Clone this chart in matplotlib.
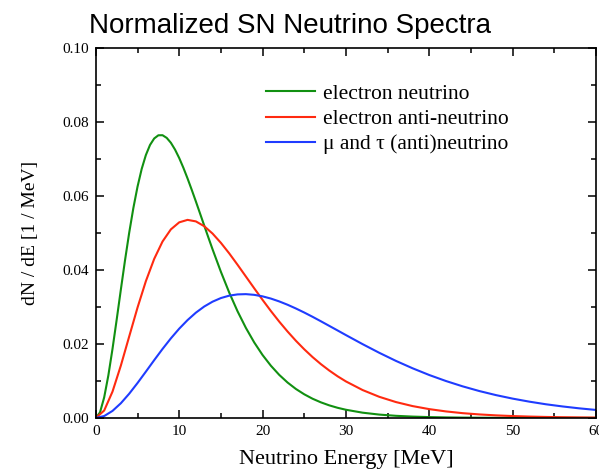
import numpy as np
import matplotlib
matplotlib.use("Agg")
import matplotlib.pyplot as plt
from matplotlib.ticker import MultipleLocator

# energies (MeV): half-MeV step below 14 for the narrow electron-neutrino peak
energy_e = [i * 0.5 for i in range(28)] + list(range(14, 31)) + list(range(32, 61, 2))
energy = list(range(0, 31)) + list(range(32, 61, 2))

nu_e = [0.0, 0.001502, 0.00555, 0.01148, 0.01868, 0.02657, 0.03469, 0.04262,
        0.05005, 0.05674, 0.06252, 0.06732, 0.07107, 0.07381, 0.07556,
        0.07642, 0.07644, 0.07572, 0.07440, 0.07255, 0.07027, 0.06764,
        0.06476, 0.06170, 0.05853, 0.05528, 0.05202, 0.04878,
        0.04560, 0.03952, 0.03390, 0.02883, 0.02434, 0.02041, 0.01701,
        0.01411, 0.01164, 0.00957, 0.00783, 0.00639, 0.00519, 0.00421,
        0.00340, 0.00274, 0.00221,
        0.00142, 0.000903, 0.000572, 0.000360, 0.000225, 0.000140, 0.0000869,
        0.0000536, 0.000033, 0.0000202, 0.0000123, 0.0000075, 0.0000046,
        0.0000028, 0.0000017]

nu_e_bar = [0.0, 0.00200, 0.00712, 0.01415, 0.02201, 0.02983, 0.03697,
            0.04300, 0.04770, 0.05098, 0.05288, 0.05355, 0.05314, 0.05184,
            0.04985, 0.04734, 0.04449, 0.04141, 0.03823, 0.03505, 0.03192,
            0.02890, 0.02604, 0.02336, 0.02086, 0.01856, 0.01645, 0.01454,
            0.01282, 0.01126, 0.00987,
            0.00754, 0.00571, 0.00429, 0.00320, 0.00238, 0.00176, 0.00129,
            0.000948, 0.000692, 0.000504, 0.000365, 0.000264, 0.000190,
            0.000137, 0.0000981]

nu_x = [0.0, 0.000508, 0.00190, 0.00397, 0.00654, 0.00944, 0.01251, 0.01562,
        0.01865, 0.02151, 0.02413, 0.02645, 0.02846, 0.03012, 0.03143,
        0.03241, 0.03306, 0.03340, 0.03347, 0.03328, 0.03287, 0.03227,
        0.03150, 0.03060, 0.02959, 0.02850, 0.02734, 0.02613, 0.02489,
        0.02365, 0.02240,
        0.01995, 0.01761, 0.01542, 0.01342, 0.01160, 0.00998, 0.00854,
        0.00727, 0.00617, 0.00522, 0.00440, 0.00369, 0.00310, 0.00259,
        0.00216]

labels = ["electron neutrino", "electron anti-neutrino",
          "\u03bc and \u03c4 (anti)neutrino"]
colors = ["#119011", "#ff2a10", "#1f3cff"]

serif = ["Liberation Serif", "DejaVu Serif"]

fig = plt.figure(figsize=(5.99, 4.76), dpi=100)
ax = fig.add_axes([0.160, 0.122, 0.835, 0.777])

for x, y, lab, c in zip([energy_e, energy, energy], [nu_e, nu_e_bar, nu_x],
                        labels, colors):
    ax.plot(x, y, color=c, lw=1.5, label=lab)

ax.set_xlim(0, 60)
ax.set_ylim(0, 0.10)
ax.xaxis.set_major_locator(MultipleLocator(10))
ax.xaxis.set_minor_locator(MultipleLocator(5))
ax.yaxis.set_major_locator(MultipleLocator(0.02))
ax.yaxis.set_minor_locator(MultipleLocator(0.01))
ax.yaxis.set_major_formatter(plt.FormatStrFormatter("%.2f"))
ax.tick_params(which="both", direction="in", top=True, right=True,
               width=1.1)
ax.tick_params(which="major", length=6, labelsize=11, pad=5)
ax.tick_params(which="minor", length=3.5)
for lbl in ax.get_xticklabels() + ax.get_yticklabels():
    lbl.set_family(serif)
for s in ax.spines.values():
    s.set_linewidth(1.2)

ax.set_xlabel("Neutrino Energy [MeV]", family=serif, fontsize=16, labelpad=9)
ax.set_ylabel("dN / dE [1 / MeV]", family=serif, fontsize=14, labelpad=17)

leg = ax.legend(loc="upper left", bbox_to_anchor=(0.34, 0.903), frameon=False,
                prop={"family": serif, "size": 15.5}, handlelength=2.28,
                handletextpad=0.37, labelspacing=0.24, borderpad=0,
                borderaxespad=0)

fig.text(0.484, 0.931, "Normalized SN Neutrino Spectra",
         family=["Liberation Sans", "DejaVu Sans"], fontsize=20,
         ha="center", va="baseline")

fig.savefig("out.png", dpi=100)
